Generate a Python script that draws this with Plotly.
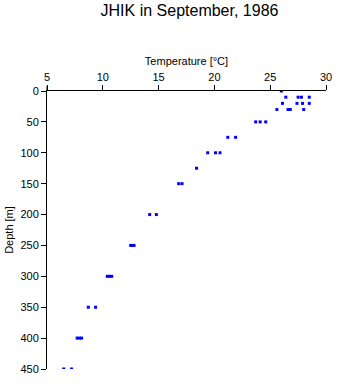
import plotly.graph_objects as go

# Depth [m] and temperature [°C] observations
depth = [0,
         10, 10, 10, 10,
         20, 20, 20, 20,
         30, 30, 30, 30,
         50, 50, 50,
         75, 75,
         100, 100, 100,
         125,
         150, 150,
         200, 200,
         250, 250, 250,
         300, 300, 300,
         350, 350,
         400, 400, 400,
         450, 450]
temp = [26.0,
        26.4, 27.5, 27.8, 28.5,
        26.1, 27.4, 27.9, 28.5,
        25.6, 26.6, 26.8, 28.0,
        23.7, 24.1, 24.6,
        21.2, 21.9,
        19.4, 20.1, 20.5,
        18.4,
        16.8, 17.1,
        14.2, 14.8,
        12.5, 12.65, 12.8,
        10.4, 10.6, 10.8,
        8.7, 9.35,
        7.7, 7.9, 8.1,
        6.5, 7.2]

x_ticks = [5, 10, 15, 20, 25, 30]
y_ticks = [0, 50, 100, 150, 200, 250, 300, 350, 400, 450]

fig = go.Figure()
fig.add_trace(go.Scatter(
    x=temp, y=depth, mode="markers",
    marker=dict(symbol="square", size=3, color="#0000FF", line=dict(width=0)),
    showlegend=False, hoverinfo="x+y"))

font = "Liberation Sans, Arial, sans-serif"
fig.update_layout(
    width=341, height=384,
    margin=dict(l=47, r=9, t=91, b=9),
    paper_bgcolor="white", plot_bgcolor="white",
    font=dict(family=font, size=11, color="black"),
    title=dict(text="JHIK in September, 1986", x=189.5/341, xanchor="center",
               y=1 - 5/384, yanchor="top", yref="container",
               font=dict(size=16, family=font, color="black")),
    xaxis=dict(side="top", range=[5, 30], tickvals=x_ticks,
               showline=True, linecolor="black", linewidth=1,
               ticks="outside", ticklen=5, tickcolor="black",
               showgrid=False, zeroline=False,
               title=dict(text="Temperature [°C]", standoff=2, font=dict(size=11))),
    yaxis=dict(range=[450, 0], tickvals=y_ticks,
               showline=True, linecolor="black", linewidth=1,
               ticks="outside", ticklen=5, tickcolor="black",
               showgrid=False, zeroline=False,
               title=dict(text="Depth [m]", standoff=4, font=dict(size=11))),
)
fig.add_shape(type="line", xref="x domain", yref="y domain",
              x0=0, x1=0, y0=1, y1=1.018, line=dict(color="black", width=1))

fig.write_html("out.html")
